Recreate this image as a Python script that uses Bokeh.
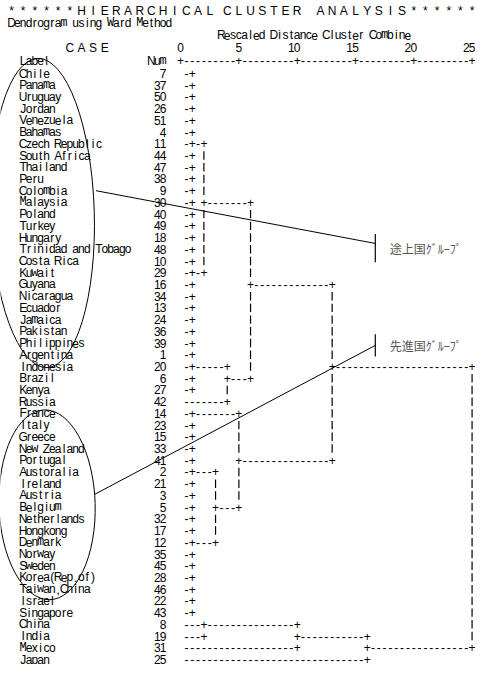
from bokeh.plotting import figure
from bokeh.models import Range1d
from bokeh.embed import file_html
from bokeh.resources import INLINE
from bokeh.core.properties import value

# ---------------- data ----------------
title_line = "* * * * * * H I E R A R C H I C A L  C L U S T E R   A N A L Y S I S * * * * * *"
method_line = "Dendrogram using Ward Method"
scale_title = "Rescaled Distance Cluster Combine"
case_head = "C A S E"
label_head = "Label"
num_head = "Num"
tick_values = [0, 5, 10, 15, 20, 25]
tick_labels = ["0", "5", "10", "15", "20", "25"]

labels = ["Chile", "Panama", "Uruguay", "Jordan", "Venezuela", "Bahamas",
          "Czech Republic", "South Africa", "Thailand", "Peru", "Colombia",
          "Malaysia", "Poland", "Turkey", "Hungary", "Trinidad and Tobago",
          "Costa Rica", "Kuwait", "Guyana", "Nicaragua", "Ecuador", "Jamaica",
          "Pakistan", "Philippines", "Argentina", "Indonesia", "Brazil", "Kenya",
          "Russia", "France", "Italy", "Greece", "New Zealand", "Portugal",
          "Austoralia", "Ireland", "Austria", "Belgium", "Netherlands",
          "Hongkong", "Denmark", "Norway", "Sweden", "Korea(Rep.of)",
          "Taiwan,China", "Israel", "Singapore", "China", "India", "Mexico", "Japan"]
nums = [7, 37, 50, 26, 51, 4, 11, 44, 47, 38, 9, 30, 40, 49, 18, 48, 10, 29,
        16, 34, 13, 24, 36, 39, 1, 20, 6, 27, 42, 14, 23, 15, 33, 41, 2, 21, 3,
        5, 32, 17, 12, 35, 45, 28, 46, 22, 43, 8, 19, 31, 25]

# dendrogram text rows (first character sits one column right of the "0" tick)
dendro = [
    "-+", "-+", "-+", "-+", "-+", "-+",
    "-+-+",
    "-+ |", "-+ |", "-+ |", "-+ |",
    "-+ +-------+",
    "-+ |       |", "-+ |       |", "-+ |       |", "-+ |       |", "-+ |       |",
    "-+-+       |",
    "-+" + " " * 9 + "+" + "-" * 13 + "+",
    "-+" + " " * 9 + "|" + " " * 13 + "|",
    "-+" + " " * 9 + "|" + " " * 13 + "|",
    "-+" + " " * 9 + "|" + " " * 13 + "|",
    "-+" + " " * 9 + "|" + " " * 13 + "|",
    "-+" + " " * 9 + "|" + " " * 13 + "|",
    "-+" + " " * 9 + "|" + " " * 13 + "|",
    "-+-----+   |" + " " * 13 + "+" + "-" * 23 + "+",
    "-+     +---+" + " " * 13 + "|" + " " * 23 + "|",
    "-+     |" + " " * 17 + "|" + " " * 23 + "|",
    "-------+" + " " * 17 + "|" + " " * 23 + "|",
    "-+-------+" + " " * 15 + "|" + " " * 23 + "|",
    "-+       |" + " " * 15 + "|" + " " * 23 + "|",
    "-+       |" + " " * 15 + "|" + " " * 23 + "|",
    "-+       |" + " " * 15 + "|" + " " * 23 + "|",
    "-+       +" + "-" * 15 + "+" + " " * 23 + "|",
    "-+---+   |" + " " * 39 + "|",
    "-+   |   |" + " " * 39 + "|",
    "-+   |   |" + " " * 39 + "|",
    "-+   +---+" + " " * 39 + "|",
    "-+   |" + " " * 43 + "|",
    "-+   |" + " " * 43 + "|",
    "-+---+" + " " * 43 + "|",
    "-+" + " " * 47 + "|",
    "-+" + " " * 47 + "|",
    "-+" + " " * 47 + "|",
    "-+" + " " * 47 + "|",
    "-+" + " " * 47 + "|",
    "-+" + " " * 47 + "|",
    "---+" + "-" * 15 + "+" + " " * 29 + "|",
    "---+" + " " * 15 + "+" + "-" * 11 + "+" + " " * 17 + "|",
    "-" * 19 + "+" + " " * 11 + "+" + "-" * 17 + "+",
    "-" * 31 + "+",
]

group_names = ["途上国ｸﾞﾙｰﾌﾟ", "先進国ｸﾞﾙｰﾌﾟ"]
group_first = ["Chile", "France"]
group_last = ["Argentina", "Taiwan,China"]
group_pointer = ["Colombia", "Austria"]

# ---------------- text grid geometry ----------------
COL_LABEL = 2
COL_NUM_END = 26
COL_ZERO = 29          # column of the "0" tick
W, H = 475, 664
KX = 5.83              # px per column
KY = 11.72             # px per row
PX0 = 11.0             # px of column 0 centre
PY0 = 73.0             # px of first case row
x_start = -PX0 / KX
x_end = (W - PX0) / KX
y_top = -PY0 / KY
y_bot = (H - PY0) / KY

# header line rows (slightly tighter above the case list)
ROW_TITLE, ROW_METHOD, ROW_SCALE, ROW_TICKS, ROW_AXIS = -5.3, -4.35, -3.25, -2.2, -1.1

p = figure(width=W, height=H, x_range=Range1d(x_start, x_end), y_range=Range1d(y_bot, y_top),
           x_axis_type=None, y_axis_type=None, toolbar_location=None,
           output_backend="svg", min_border=0)
p.outline_line_color = None
p.background_fill_color = "white"
p.border_fill_color = "white"

sans = {"x": [], "y": [], "t": []}
mono = {"x": [], "y": [], "t": []}
bars = {"x": [], "y": []}


def put(text, col, row):
    for k, ch in enumerate(text):
        if ch == " ":
            continue
        c = col + k
        if ch == "|":
            bars["x"].append(c)
            bars["y"].append(row)
        elif ch in "mwMW":
            mono["x"].append(c); mono["y"].append(row); mono["t"].append(ch)
        else:
            sans["x"].append(c); sans["y"].append(row); sans["t"].append(ch)


put(title_line, 0, ROW_TITLE)
put(method_line, 0, ROW_METHOD)
put(scale_title, 36, ROW_SCALE)
put(case_head, 10, ROW_TICKS)
for tv, tl in zip(tick_values, tick_labels):
    put(tl, COL_ZERO + 2 * tv - len(tl) + 1, ROW_TICKS)
put(label_head, COL_LABEL, ROW_AXIS)
put(num_head, COL_NUM_END - len(num_head) + 1, ROW_AXIS)
axis_str = "".join("+" if (i % 10 == 0) else "-" for i in range(2 * tick_values[-1] + 1))
put(axis_str, COL_ZERO, ROW_AXIS)

for r, (lab, n, d) in enumerate(zip(labels, nums, dendro)):
    put(lab, COL_LABEL, r)
    s = str(n)
    put(s, COL_NUM_END - len(s) + 1, r)
    put(d, COL_ZERO + 1, r)

p.text(x="x", y="y", text="t", source=sans, text_align="center", text_baseline="middle",
       text_font=value("Liberation Sans"), text_font_size="12px", text_color="black")
p.text(x="x", y="y", text="t", source=mono, text_align="center", text_baseline="middle",
       text_font=value("Liberation Mono"), text_font_size="12px", text_color="black")
p.segment(x0=bars["x"], y0=[y - 0.36 for y in bars["y"]], x1=bars["x"],
          y1=[y + 0.36 for y in bars["y"]], line_color="black", line_width=1.2)

# ---------------- hand-drawn group annotations (in grid units) ----------------
rows = {lab: i for i, lab in enumerate(labels)}
ell_cx = [5.3, 6.1]
ell_w = [17.8, 16.5]
ell_pad = [1.2, 0.6]          # rows beyond the first/last member
ell_shift = [-0.1, 0.3]
ptr_col = [14.5, 14.3]
ptr_dy = [0.0, -0.1]
bracket_col = 62.4
bracket_mid = [14.9, 23.2]
bracket_half = [1.2, 0.95]
line_end_dy = [-0.4, 0.0]

for gi in range(2):
    r0, r1 = rows[group_first[gi]], rows[group_last[gi]]
    yc = (r0 + r1) / 2 + ell_shift[gi]
    p.ellipse(x=[ell_cx[gi]], y=[yc], width=[ell_w[gi]], height=[(r1 - r0) + 2 * ell_pad[gi]],
              angle=[0.03], fill_color=None, line_color="black", line_width=1)
    pr = rows[group_pointer[gi]]
    gy = bracket_mid[gi]
    p.line(x=[ptr_col[gi], bracket_col], y=[pr + ptr_dy[gi], gy + line_end_dy[gi]],
           line_color="black", line_width=1)
    p.segment(x0=[bracket_col], y0=[gy - bracket_half[gi]], x1=[bracket_col],
              y1=[gy + bracket_half[gi]], line_color="black", line_width=1.2)
    p.text(x=[bracket_col + 2.5], y=[gy], text=[group_names[gi]], text_align="left",
           text_baseline="middle", text_font=value("Noto Sans CJK JP"),
           text_font_size="12px", text_color="#555555")

open("out.html", "w").write(file_html(p, INLINE))
